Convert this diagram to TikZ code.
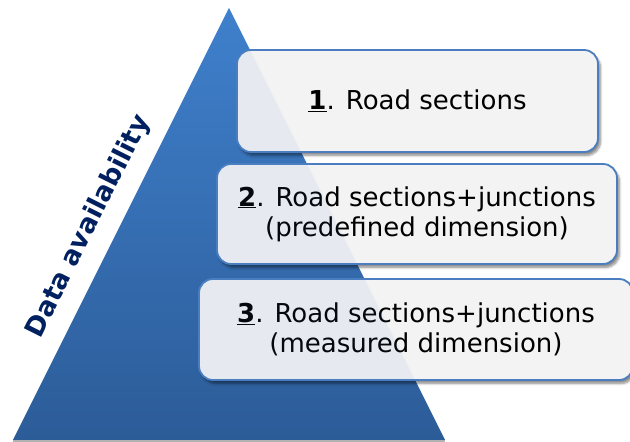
\documentclass[tikz,border=0pt]{standalone}
\usepackage{fontspec}
\setmainfont{DejaVu Sans}
\usetikzlibrary{shadows.blur}
\definecolor{tritop}{RGB}{63,128,204}
\definecolor{tribot}{RGB}{44,92,152}
\definecolor{boxfill}{RGB}{243,243,243}
\definecolor{boxline}{RGB}{74,126,192}
\definecolor{navy}{RGB}{0,32,96}
\newcommand{\numlab}[1]{\underline{\textbf{#1}}}
\newcommand{\tripath}{(13,2) -- (445,2) -- (229,434) -- cycle}
\begin{document}
\begin{tikzpicture}[x=1pt,y=1pt,
  levelbox/.style={draw=boxline, line width=1.8pt, fill=boxfill,
    rounded corners=14pt, align=center, inner sep=0pt,
    font=\fontsize{26}{30}\selectfont,
    blur shadow={shadow xshift=2.5pt, shadow yshift=-3.5pt, shadow blur steps=6, shadow opacity=45}},
  axislabel/.style={font=\fontsize{26.5}{30}\selectfont\bfseries, text=navy, rotate=63.43, anchor=base, inner sep=0pt}]
\useasboundingbox (0,0) rectangle (630,442);
% triangle shadow line
\fill[black!30] (13,0) rectangle (445,2.5);
% pyramid
\shade[top color=tritop, bottom color=tribot] \tripath;
% level boxes
\node[levelbox, minimum width=361pt, minimum height=102pt] (b1) at (417.5,341) {\numlab{1}. Road sections};
\node[levelbox, minimum width=400pt, minimum height=100pt] (b2) at (417,228) {\numlab{2}. Road sections+junctions\\(predefined dimension)};
\node[levelbox, minimum width=434pt, minimum height=101pt] (b3) at (416,112.5) {\numlab{3}. Road sections+junctions\\(measured dimension)};
% pyramid seen faintly through the boxes
\foreach \b in {b1,b2,b3}{
  \begin{scope}
    \clip[rounded corners=13pt] ([shift={(0.9pt,0.9pt)}]\b.south west) rectangle ([shift={(-0.9pt,-0.9pt)}]\b.north east);
    \fill[tritop, opacity=0.07] \tripath;
  \end{scope}
}
% axis label
\node[axislabel] (lab) at (95,212) {Data availability};
\end{tikzpicture}
\end{document}
